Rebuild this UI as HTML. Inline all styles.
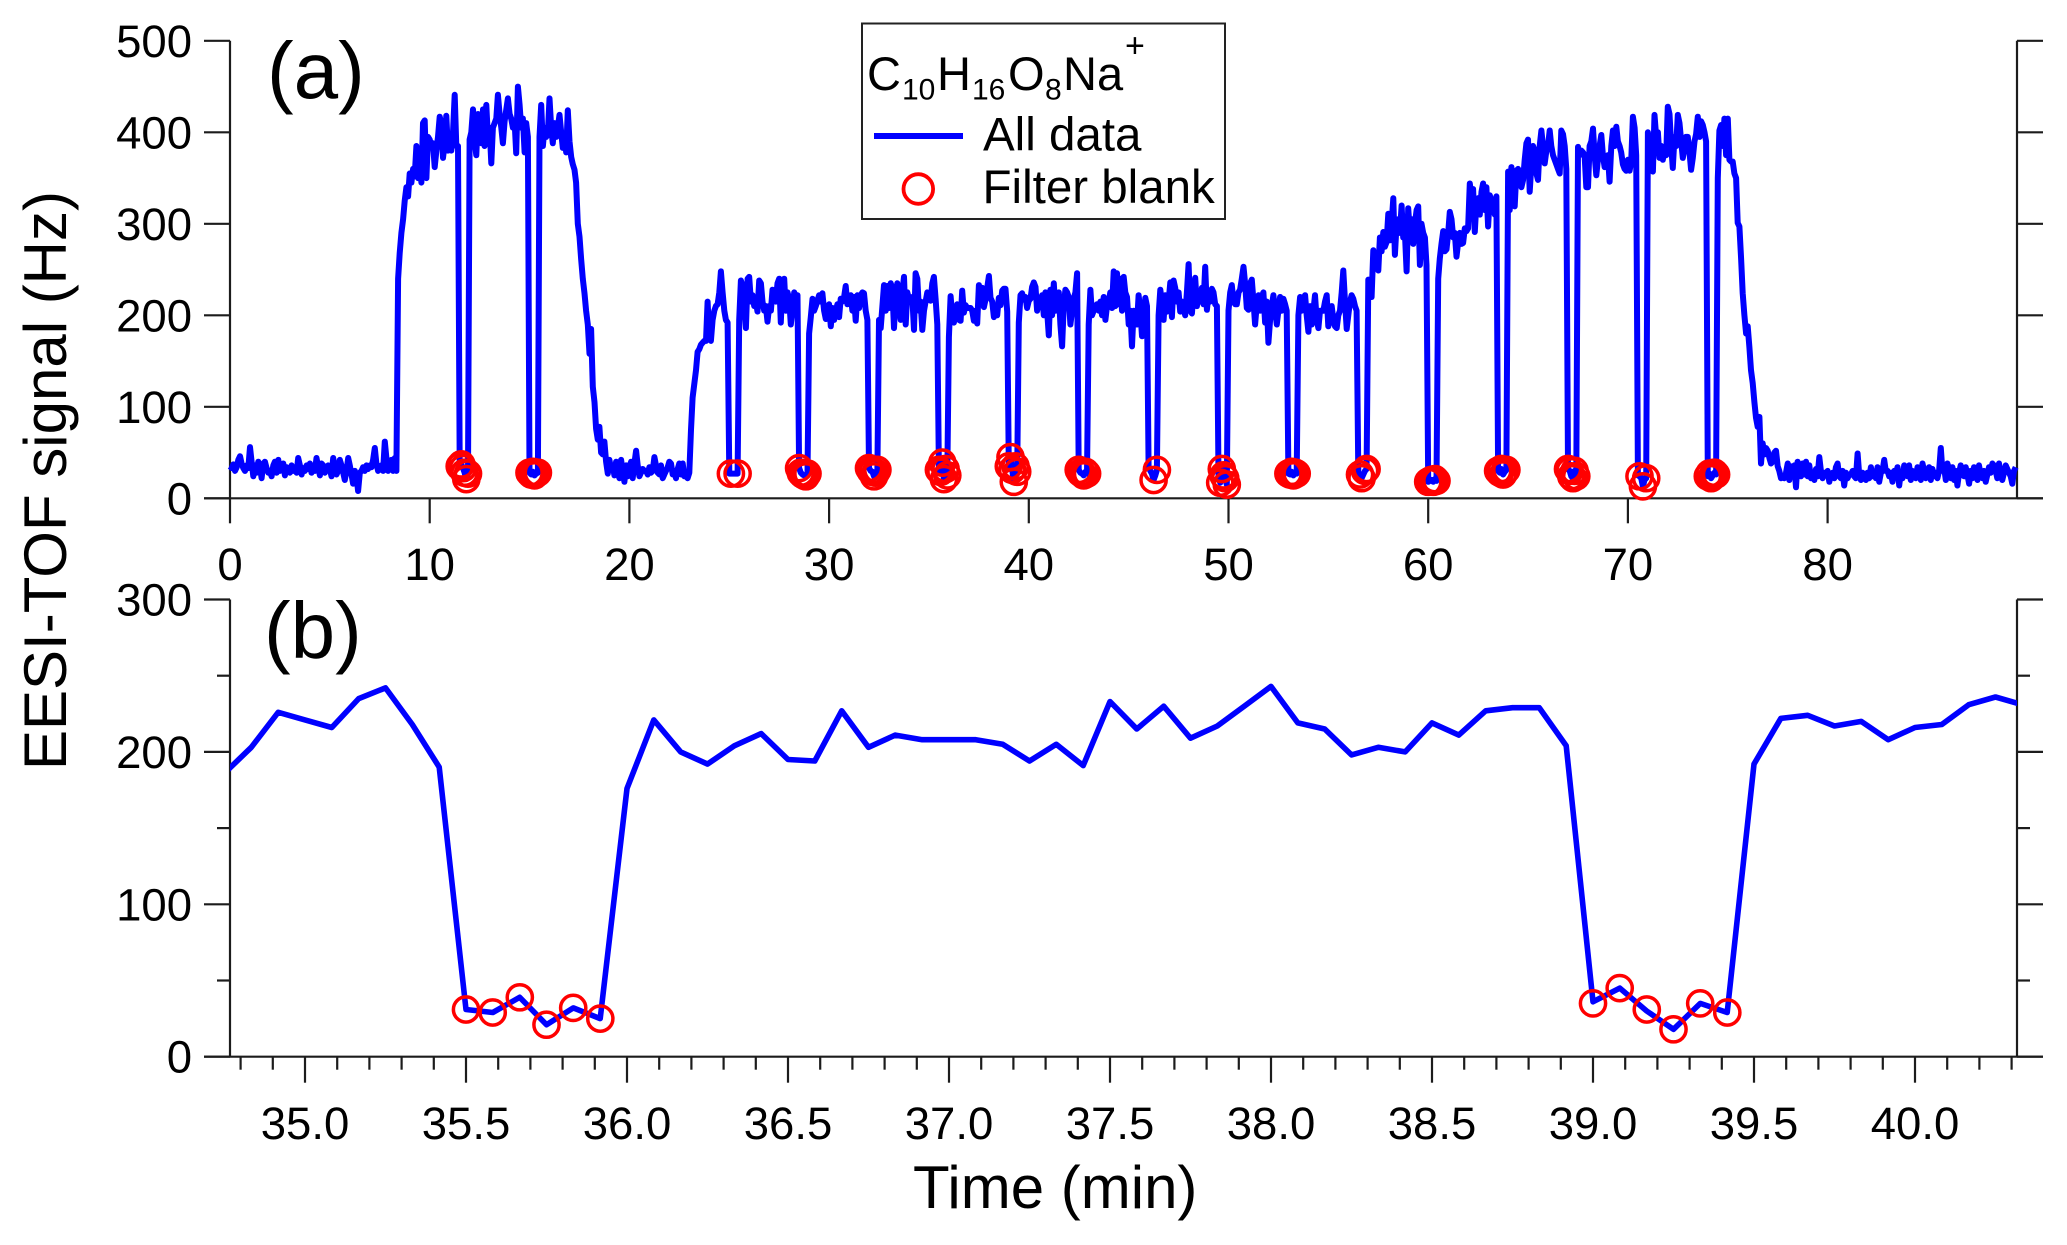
<!DOCTYPE html>
<html lang="en">
<head>
<meta charset="utf-8">
<title>C10H16O8Na+ EESI-TOF signal</title>
<style>
html,body{margin:0;padding:0;background:#fff;}
svg{display:block;}
text{font-family:"Liberation Sans",Arial,sans-serif;fill:#000;}
</style>
</head>
<body>
<svg id="chart" xmlns="http://www.w3.org/2000/svg" width="2067" height="1245" viewBox="0 0 2067 1245">
  <rect x="0" y="0" width="2067" height="1245" fill="#fff"/>
  <defs>
    <clipPath id="clipB"><rect x="230" y="590" width="1787" height="480"/></clipPath>
  </defs>
  <g id="panelA"></g>
  <g id="panelB"></g>
  <text x="267" y="98" font-size="80">(a)</text>
  <text x="264" y="658" font-size="80">(b)</text>
  <text transform="translate(66,770) rotate(-90)" font-size="60">EESI-TOF signal (Hz)</text>
  <text x="913" y="1208" font-size="60">Time (min)</text>
  <g>
    <rect x="862" y="23.5" width="363" height="195.5" fill="#fff" stroke="#222" stroke-width="2"/>
    <text font-size="47"><tspan x="867" y="90">C</tspan><tspan x="902" y="99.5" font-size="30">10</tspan><tspan x="937" y="90">H</tspan><tspan x="972" y="99.5" font-size="30">16</tspan><tspan x="1008" y="90">O</tspan><tspan x="1045" y="99.5" font-size="30">8</tspan><tspan x="1063" y="90">Na</tspan><tspan x="1125" y="57" font-size="34">+</tspan></text>
    <line x1="874" y1="136" x2="963" y2="136" stroke="#0000ff" stroke-width="6"/>
    <text x="983" y="150.5" font-size="47.5">All data</text>
    <circle cx="918.3" cy="189" r="14.8" fill="none" stroke="#ff0000" stroke-width="3.8"/>
    <text x="982.5" y="203" font-size="47.5">Filter blank</text>
  </g>
</svg>
<script>
// Panel (a): one sample every 1/12 min, one row per minute starting at t = 0
const sampleStepMin = 1 / 12;
const signalA = [
35,33,37,30,34,42,46,38,33,30,36,33,
56,40,24,36,28,40,34,22,38,40,33,28,
30,24,36,40,28,42,30,36,38,25,34,32,
28,36,30,34,28,44,36,26,33,30,36,32,
38,28,34,30,44,34,25,38,36,28,34,36,
32,24,44,34,26,30,42,36,28,20,30,44,
36,26,16,30,24,8,28,30,34,30,36,32,
36,34,42,55,38,30,34,36,30,62,44,30,
34,42,30,44,30,240,268,290,305,325,340,330,
355,345,360,352,385,350,370,345,410,413,350,395,
392,385,388,362,380,395,417,410,372,388,418,380,
385,380,400,441,385,385,35,37,33,28,21,27,
392,400,425,390,375,420,395,388,425,385,430,395,
405,366,405,410,415,441,420,405,388,412,425,437,
420,415,405,412,377,450,430,405,415,378,410,395,
28,26,29,25,27,28,395,430,385,405,395,400,
437,405,388,410,395,405,419,400,383,395,378,424,
390,373,365,359,345,300,286,262,240,224,205,190,
158,185,122,105,76,64,78,50,48,62,40,27,
42,32,36,25,40,28,22,42,30,18,36,24,
34,40,22,38,52,36,24,28,32,30,30,26,
34,28,30,45,36,28,26,36,22,26,30,34,
40,38,26,30,22,32,38,26,38,24,24,22,
28,75,110,125,140,160,163,168,170,172,172,215,
175,172,195,205,210,212,225,248,225,205,195,192,
27,27,27,27,27,27,195,238,232,210,186,240,
242,215,222,210,215,204,238,235,215,205,210,193,
210,205,228,222,215,235,240,192,238,240,205,225,
218,190,205,225,220,222,33,28,26,25,24,27,
180,198,218,205,210,216,222,215,224,205,196,205,
212,188,208,195,205,212,198,218,215,220,232,212,
215,222,205,220,194,222,208,222,225,224,205,195,
33,30,29,24,28,31,195,186,210,233,205,232,
208,235,230,186,222,235,215,195,225,242,190,225,
218,215,220,184,246,240,205,215,184,205,215,225,
221,216,235,242,218,190,31,29,39,21,32,25,
176,221,200,192,204,212,195,194,227,203,211,208,
208,208,205,194,205,191,233,215,230,209,217,230,
243,219,215,198,203,200,219,211,227,229,229,204,
35,45,31,18,35,29,192,222,224,217,220,208,
216,218,231,236,231,205,215,212,222,200,225,205,
178,228,200,235,205,220,225,190,166,210,228,225,
220,190,205,218,225,246,31,28,27,25,29,27,
190,228,200,205,210,212,205,215,200,220,195,210,
215,225,208,248,210,246,212,240,205,242,225,220,
190,205,166,205,195,190,222,205,177,195,219,210,
34,30,27,20,25,31,200,228,215,195,222,204,
215,236,198,238,230,215,225,204,215,208,200,225,
256,205,202,225,241,210,225,215,230,212,253,206,
222,215,229,225,212,210,25,17,32,25,22,15,
205,225,233,215,212,212,225,228,240,253,235,208,
206,235,239,215,190,212,222,205,220,225,192,215,
170,195,210,222,205,190,205,220,205,218,212,205,
27,26,29,25,28,27,200,220,205,218,222,200,
182,210,190,205,222,195,186,205,205,205,215,222,
188,195,210,196,188,186,200,205,225,249,215,185,
200,215,222,218,210,205,28,26,22,26,30,32,
239,232,220,271,252,262,249,285,270,291,275,280,
311,282,300,328,266,300,305,290,320,285,290,248,
317,290,305,278,300,315,319,255,300,290,285,255,
18,19,20,18,21,19,240,262,278,292,270,272,
290,313,305,285,290,264,280,290,278,279,295,292,
295,344,330,338,291,325,328,310,335,344,315,340,
297,331,325,318,310,330,30,28,32,26,29,31,
357,315,362,345,319,358,360,352,340,348,370,388,
392,335,365,385,380,355,348,385,402,385,366,380,
385,402,385,375,370,365,360,355,402,398,385,360,
32,30,24,22,30,24,384,375,380,378,375,340,
340,385,390,404,375,353,370,385,397,375,362,372,
375,346,385,402,385,406,390,385,378,365,360,358,
370,358,368,417,405,375,25,24,22,13,20,22,
400,375,380,357,419,395,400,372,385,370,380,375,
428,420,385,361,395,385,419,410,390,372,382,395,
395,378,359,372,390,398,417,395,412,408,400,390,
24,27,22,25,28,26,350,402,408,385,415,375,
415,370,368,368,355,350,301,297,262,224,200,180,
188,165,140,126,105,88,78,89,38,60,48,55,
52,44,38,40,50,52,35,30,22,23,22,28,
38,20,35,24,36,12,40,32,24,38,26,40,
24,36,22,28,20,32,24,45,30,22,28,26,
30,18,26,28,22,34,38,24,22,30,14,28,
22,26,26,30,24,22,49,26,20,28,26,20,
28,22,34,24,26,22,34,18,28,30,42,30,
30,24,28,18,30,26,34,14,28,22,36,26,
24,36,20,30,28,22,34,28,20,38,30,22,
26,34,20,32,24,28,22,30,55,30,34,20,
38,32,22,34,20,30,14,28,36,26,24,34,
26,16,30,22,34,28,20,36,26,22,30,18,
26,34,28,38,36,30,22,38,26,20,28,36,
32,28,24,16,30,34
];
const blankTimesA = [
11.5,11.583,11.667,11.75,11.833,11.917,
15,15.083,15.167,15.25,15.333,15.417,
25.083,25.417,
28.5,28.583,28.667,28.75,28.833,28.917,
32,32.083,32.167,32.25,32.333,32.417,
35.5,35.583,35.667,35.75,35.833,35.917,
39,39.083,39.167,39.25,39.333,39.417,
42.5,42.583,42.667,42.75,42.833,42.917,
46.25,46.417,
49.583,49.667,49.75,49.833,49.917,
53,53.083,53.167,53.25,53.333,53.417,
56.583,56.667,56.833,56.917,
60,60.083,60.167,60.25,60.333,60.417,
63.5,63.583,63.667,63.75,63.833,63.917,
67,67.083,67.167,67.25,67.333,67.417,
70.583,70.75,70.917,
74,74.083,74.167,74.25,74.333,74.417
];
const blankValuesA = [
35,37,33,28,21,27,
28,26,29,25,27,28,
27,27,
33,28,26,25,24,27,
33,30,29,24,28,31,
31,29,39,21,32,25,
35,45,31,18,35,29,
31,28,27,25,29,27,
20,31,
17,32,25,22,15,
27,26,29,25,28,27,
26,22,30,32,
18,19,20,18,21,19,
30,28,32,26,29,31,
32,30,24,22,30,24,
24,13,22,
24,27,22,25,28,26
];
const yTicksA = [0,100,200,300,400,500];
const xTicksA = [0,10,20,30,40,50,60,70,80];

// Panel (b): zoom on 34.75 - 40.33 min, one sample every 1/12 min
const startTimeB = 34.75;
const signalB = [
186,203,226,221,216,235,242,218,190,31,29,39,21,32,25,176,221,200,192,204,212,195,194,227,
203,211,208,208,208,205,194,205,191,233,215,230,209,217,230,243,219,215,198,203,200,219,211,
227,229,229,204,36,45,30,18,35,29,192,222,224,217,220,208,216,218,231,236,231
];
const blankTimesB = [35.5,35.583,35.667,35.75,35.833,35.917,39,39.083,39.167,39.25,39.333,39.417];
const blankValuesB = [31,29,39,21,32,25,35,45,31,18,35,29];
const yMajorTicksB = [0,100,200,300];
const yMinorTicksB = [50,150,250];
const xMajorTicksB = ['35.0','35.5','36.0','36.5','37.0','37.5','38.0','38.5','39.0','39.5','40.0'];
const xMinorTicksB = [34.8,34.9,35.1,35.2,35.3,35.4,35.6,35.7,35.8,35.9,36.1,36.2,36.3,36.4,36.6,36.7,36.8,36.9,37.1,37.2,37.3,37.4,37.6,37.7,37.8,37.9,38.1,38.2,38.3,38.4,38.6,38.7,38.8,38.9,39.1,39.2,39.3,39.4,39.6,39.7,39.8,39.9,40.1,40.2,40.3];

const NS = 'http://www.w3.org/2000/svg';
const leftX = 230, rightX = 2017, majorLen = 26, minorLen = 13;
const xA = t => 230 + 19.97 * t;
const yA = v => 498.3 - 0.915 * v;
const xB = t => 305 + 322 * (t - 35);
const yB = v => 1056.7 - 1.524 * v;

function make(tag, attrs, parent) {
  const el = document.createElementNS(NS, tag);
  for (const k in attrs) el.setAttribute(k, attrs[k]);
  parent.appendChild(el);
  return el;
}
function axisLine(parent, x1, y1, x2, y2, name) {
  const el = make('line', {x1: x1, y1: y1, x2: x2, y2: y2, stroke: '#1c1c1c', 'stroke-width': 2.2}, parent);
  
  
}
function label(parent, x, y, anchor, str, name) {
  const el = make('text', {x: x, y: y, 'text-anchor': anchor, 'font-size': 45.5}, parent);
  el.textContent = str;
  
  
}
function trace(parent, pts, name, width, extra) {
  const d = pts.map(p => p[0].toFixed(1) + ',' + p[1].toFixed(1)).join(' ');
  const el = make('polyline', Object.assign({points: d, fill: 'none', stroke: '#0000ff', 'stroke-width': width, 'stroke-linejoin': 'round', 'stroke-linecap': 'butt'}, extra || {}), parent);
  
  
}
function ring(parent, cx, cy, name) {
  const el = make('circle', {cx: cx.toFixed(1), cy: cy.toFixed(1), r: 12.6, fill: 'none', stroke: '#ff0000', 'stroke-width': 3.5}, parent);
  
  
}

// Panel (a)
const gA = document.getElementById('panelA');
axisLine(gA, leftX, yA(500), leftX, yA(0), 'panel-a-left-axis');
axisLine(gA, rightX, yA(500), rightX, yA(0), 'panel-a-right-axis');
axisLine(gA, leftX - majorLen, yA(0), rightX + majorLen, yA(0), 'panel-a-x-axis');
yTicksA.forEach(v => {
  axisLine(gA, leftX - majorLen, yA(v), leftX, yA(v), 'panel-a-y-tick');
  axisLine(gA, rightX, yA(v), rightX + majorLen, yA(v), 'panel-a-right-tick');
  label(gA, 192, yA(v) + 16, 'end', String(v), 'panel-a-y-tick-label');
});
xTicksA.forEach(t => {
  axisLine(gA, xA(t), yA(0), xA(t), yA(0) + 25, 'panel-a-x-tick');
  label(gA, xA(t), 580, 'middle', String(t), 'panel-a-x-tick-label');
});
trace(gA, signalA.map((v, i) => [xA(i * sampleStepMin), yA(v)]), 'panel-a-all-data-line', 6);
blankTimesA.forEach((t, i) => ring(gA, xA(t), yA(blankValuesA[i]), 'panel-a-filter-blank-marker'));

// Panel (b)
const gB = document.getElementById('panelB');
axisLine(gB, leftX, yB(300), leftX, yB(0), 'panel-b-left-axis');
axisLine(gB, rightX, yB(300), rightX, yB(0), 'panel-b-right-axis');
axisLine(gB, leftX - majorLen, yB(0), rightX + majorLen, yB(0), 'panel-b-x-axis');
yMajorTicksB.forEach(v => {
  axisLine(gB, leftX - majorLen, yB(v), leftX, yB(v), 'panel-b-y-tick');
  axisLine(gB, rightX, yB(v), rightX + majorLen, yB(v), 'panel-b-right-tick');
  label(gB, 192, yB(v) + 16, 'end', String(v), 'panel-b-y-tick-label');
});
yMinorTicksB.forEach(v => {
  axisLine(gB, leftX - minorLen, yB(v), leftX, yB(v), 'panel-b-y-minor-tick');
  axisLine(gB, rightX, yB(v), rightX + minorLen, yB(v), 'panel-b-right-minor-tick');
});
xMajorTicksB.forEach(s => {
  const t = parseFloat(s);
  axisLine(gB, xB(t), yB(0), xB(t), yB(0) + majorLen, 'panel-b-x-tick');
  label(gB, xB(t), 1139, 'middle', s, 'panel-b-x-tick-label');
});
xMinorTicksB.forEach(t => {
  axisLine(gB, xB(t), yB(0), xB(t), yB(0) + minorLen, 'panel-b-x-minor-tick');
});
trace(gB, signalB.map((v, i) => [xB(startTimeB + i * sampleStepMin), yB(v)]), 'panel-b-all-data-line', 5.6, {'clip-path': 'url(#clipB)'});
blankTimesB.forEach((t, i) => ring(gB, xB(t), yB(blankValuesB[i]), 'panel-b-filter-blank-marker'));
</script>
</body>
</html>
